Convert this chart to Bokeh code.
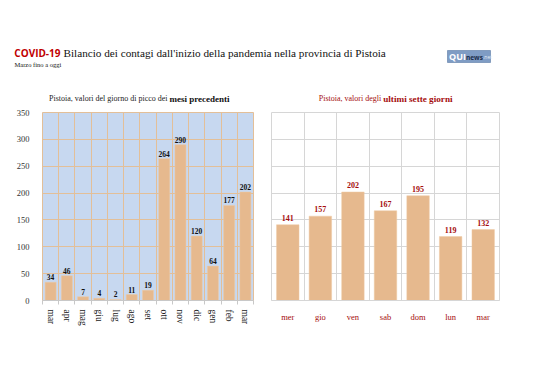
import math
from bokeh.plotting import figure
from bokeh.layouts import column, row
from bokeh.models import FixedTicker, Range1d
from bokeh.core.properties import value
from bokeh.embed import file_html
from bokeh.resources import INLINE

# ---------------- data ----------------
months = ["mar", "apr", "mag", "giu", "lug", "ago", "set", "ott", "nov", "dic", "gen", "feb", "mar"]
month_values = [34, 46, 7, 4, 2, 11, 19, 264, 290, 120, 64, 177, 202]
days = ["mer", "gio", "ven", "sab", "dom", "lun", "mar"]
day_values = [141, 157, 202, 167, 195, 119, 132]
y_ticks = [0, 50, 100, 150, 200, 250, 300, 350]

SERIF = value("Liberation Serif")
SANS = value("Open Sans")
BAR = "#e6b98e"
RED = "#a50d0d"
W = 530
HEAD_H = 108
BODY_H = 262

# ---------------- header ----------------
header = figure(width=W, height=HEAD_H, x_range=Range1d(0, W), y_range=Range1d(0, HEAD_H),
                output_backend="svg", toolbar_location=None, min_border=0)
header.axis.visible = False
header.grid.visible = False
header.outline_line_color = None

header.text(x=[60], y=[56], text=["COVID-19"], text_align="right", text_baseline="middle",
            text_font=SANS, text_font_style="bold", text_font_size="10px", text_color="#c00000")
header.text(x=[63], y=[56], text=["Bilancio dei contagi dall'inizio della pandemia nella provincia di Pistoia"],
            text_align="left", text_baseline="middle", text_font=SERIF, text_font_size="11.2px",
            text_color="#111111")
header.text(x=[14], y=[44], text=["Marzo fino a oggi"], text_align="left", text_baseline="middle",
            text_font=SERIF, text_font_size="6.5px", text_color="#111111")

# logo
header.quad(left=[447], right=[490], bottom=[108 - 62], top=[108 - 50], fill_color="#7f9cc4",
            line_color="#5a7aa6", line_width=0.6)
header.text(x=[448.5], y=[108 - 56], text=["QUI"], text_align="left", text_baseline="middle",
            text_font=SANS, text_font_style="bold", text_font_size="9px", text_color="white")
header.text(x=[465.5], y=[108 - 56.5], text=["news"], text_align="left", text_baseline="middle",
            text_font=SANS, text_font_style="bold", text_font_size="6.5px", text_color="#1c2d4a")
header.text(x=[482.5], y=[108 - 56.5], text=[".net"], text_align="left", text_baseline="middle",
            text_font=SANS, text_font_size="5px", text_color="#e6edf7")

# chart subtitles
header.text(x=[167], y=[10], text=["Pistoia, valori del giorno di picco dei"], text_align="right",
            text_baseline="middle", text_font=SERIF, text_font_size="8px", text_color="#222222")
header.text(x=[169], y=[10], text=["mesi precedenti"], text_align="left", text_baseline="middle",
            text_font=SERIF, text_font_style="bold", text_font_size="9px", text_color="#111111")
header.text(x=[380.7], y=[10], text=["Pistoia, valori degli"], text_align="right",
            text_baseline="middle", text_font=SERIF, text_font_size="8px", text_color=RED)
header.text(x=[382.7], y=[10], text=["ultimi sette giorni"], text_align="left", text_baseline="middle",
            text_font=SERIF, text_font_style="bold", text_font_size="9.2px", text_color=RED)

# ---------------- left chart ----------------
mx = list(range(1, len(months) + 1))
m_bounds = [i + 0.5 for i in range(0, len(months) + 1)]
left = figure(width=262, height=BODY_H, x_range=Range1d(0.5, len(months) + 0.5), y_range=Range1d(0, 350),
              output_backend="svg", toolbar_location=None,
              min_border_left=42, min_border_right=9, min_border_top=4, min_border_bottom=BODY_H - 4 - 188)
left.background_fill_color = "#c7d8f0"
left.border_fill_color = "white"
left.outline_line_color = "#e3bf98"
left.vbar(x=mx, top=month_values, width=0.68, fill_color=BAR, line_color="#efcaa4", line_width=0.5)
left.text(x=mx, y=month_values, text=[str(v) for v in month_values], text_align="center",
          text_baseline="bottom", y_offset=-2, text_font=SERIF, text_font_style="bold",
          text_font_size="7.5px", text_color="#111111")

left.xgrid.ticker = FixedTicker(ticks=m_bounds)
left.ygrid.ticker = FixedTicker(ticks=y_ticks)
left.grid.grid_line_color = "#e3bf98"
left.grid.grid_line_width = 1

left.xaxis.ticker = FixedTicker(ticks=mx, minor_ticks=m_bounds)
left.xaxis.major_label_overrides = {i: m for i, m in zip(mx, months)}
left.xaxis.major_label_orientation = -math.pi / 2
left.xaxis.major_tick_line_color = None
left.xaxis.minor_tick_out = 4
left.xaxis.minor_tick_in = 0
left.xaxis.minor_tick_line_color = "#c8c8c8"
left.xaxis.axis_line_color = "#c8c8c8"
left.xaxis.major_label_text_font = "Liberation Serif"
left.xaxis.major_label_text_font_size = "9.5px"
left.xaxis.major_label_text_color = "#222222"
left.xaxis.major_label_standoff = 3

left.yaxis.ticker = FixedTicker(ticks=y_ticks)
left.yaxis.axis_line_color = None
left.yaxis.major_tick_line_color = None
left.yaxis.minor_tick_line_color = None
left.yaxis.major_label_text_font = "Liberation Serif"
left.yaxis.major_label_text_font_size = "8.5px"
left.yaxis.major_label_text_color = "#333333"
left.yaxis.major_label_standoff = 7

# ---------------- right chart ----------------
dx = list(range(1, len(days) + 1))
d_bounds = [i + 0.5 for i in range(0, len(days) + 1)]
right = figure(width=268, height=BODY_H, x_range=Range1d(0.5, len(days) + 0.5), y_range=Range1d(0, 350),
               output_backend="svg", toolbar_location=None,
               min_border_left=9, min_border_right=31, min_border_top=3, min_border_bottom=BODY_H - 3 - 195)
right.background_fill_color = "white"
right.outline_line_color = "#d6d6d6"
right.vbar(x=dx, top=day_values, width=0.69, fill_color=BAR, line_color="#efcaa4", line_width=0.5)
right.text(x=dx, y=day_values, text=[str(v) for v in day_values], text_align="center",
           text_baseline="bottom", y_offset=-4, text_font=SERIF, text_font_style="bold",
           text_font_size="8px", text_color=RED)

right.xgrid.ticker = FixedTicker(ticks=d_bounds)
right.ygrid.ticker = FixedTicker(ticks=y_ticks)
right.grid.grid_line_color = "#d6d6d6"
right.grid.grid_line_width = 1

right.yaxis.visible = False
right.xaxis.ticker = FixedTicker(ticks=dx)
right.xaxis.major_label_overrides = {i: d for i, d in zip(dx, days)}
right.xaxis.major_tick_line_color = None
right.xaxis.minor_tick_line_color = None
right.xaxis.axis_line_color = "#d6d6d6"
right.xaxis.major_label_text_font = "Liberation Serif"
right.xaxis.major_label_text_font_size = "8.5px"
right.xaxis.major_label_text_color = RED
right.xaxis.major_label_standoff = 5

layout = column(header, row(left, right))
open("out.html", "w").write(file_html(layout, INLINE))
